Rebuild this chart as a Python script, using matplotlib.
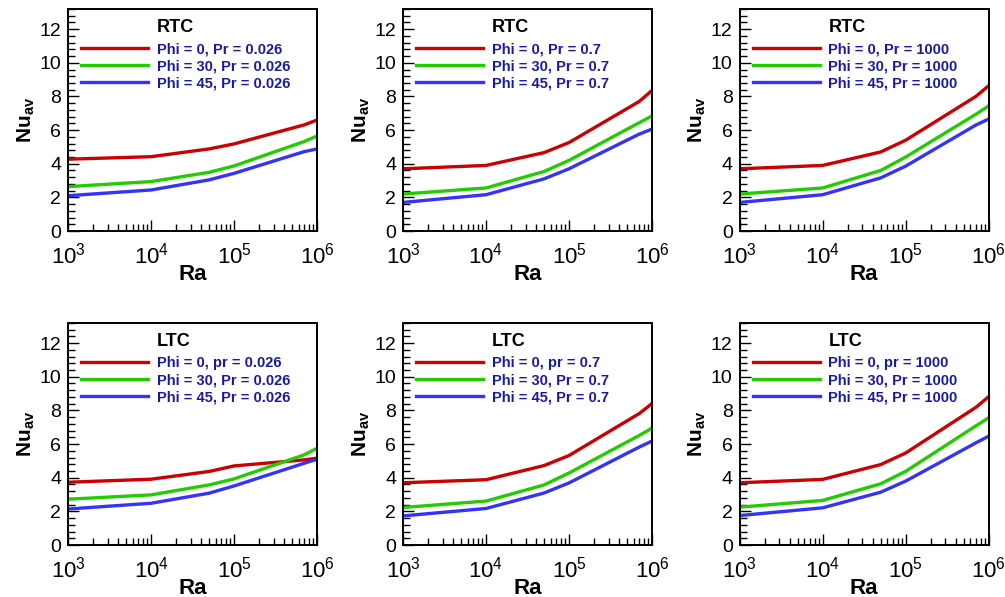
import matplotlib
matplotlib.use('Agg')
import matplotlib.pyplot as plt
import numpy as np
from matplotlib.ticker import LogLocator, MultipleLocator, NullFormatter


plt.rcParams['font.family'] = ['Liberation Sans', 'DejaVu Sans']
plt.rcParams['mathtext.fontset'] = 'custom'
plt.rcParams['mathtext.rm'] = 'Liberation Sans'
plt.rcParams['mathtext.it'] = 'Liberation Sans'
plt.rcParams['mathtext.bf'] = 'Liberation Sans:bold'

ra = [1e3, 1e4, 5e4, 1e5, 7e5, 1e6]

# RTC, top row
rtc_0026 = {
    0: [4.27, 4.42, 4.88, 5.18, 6.31, 6.60],
    30: [2.64, 2.94, 3.49, 3.87, 5.32, 5.65],
    45: [2.10, 2.44, 3.04, 3.43, 4.72, 4.88],
}
rtc_07 = {
    0: [3.70, 3.90, 4.66, 5.26, 7.70, 8.36],
    30: [2.20, 2.56, 3.54, 4.20, 6.44, 6.84],
    45: [1.70, 2.16, 3.10, 3.70, 5.76, 6.06],
}
rtc_1000 = {
    0: [3.70, 3.90, 4.70, 5.40, 8.00, 8.64],
    30: [2.20, 2.56, 3.60, 4.40, 6.94, 7.44],
    45: [1.70, 2.16, 3.16, 3.86, 6.30, 6.66],
}
# LTC, bottom row
ltc_0026 = {
    0: [3.73, 3.91, 4.37, 4.70, 5.06, 5.16],
    30: [2.72, 2.98, 3.57, 3.93, 5.36, 5.75],
    45: [2.14, 2.48, 3.08, 3.51, 4.86, 5.10],
}
ltc_07 = {
    0: [3.70, 3.88, 4.72, 5.32, 7.81, 8.41],
    30: [2.23, 2.61, 3.57, 4.28, 6.51, 6.95],
    45: [1.73, 2.17, 3.09, 3.69, 5.82, 6.18],
}
ltc_1000 = {
    0: [3.70, 3.90, 4.78, 5.47, 8.18, 8.82],
    30: [2.25, 2.65, 3.64, 4.38, 7.08, 7.56],
    45: [1.75, 2.21, 3.14, 3.80, 6.07, 6.47],
}

panels = [
    ('RTC', rtc_0026, ['Phi = 0, Pr = 0.026', 'Phi = 30, Pr = 0.026', 'Phi = 45, Pr = 0.026']),
    ('RTC', rtc_07, ['Phi = 0, Pr = 0.7', 'Phi = 30, Pr = 0.7', 'Phi = 45, Pr = 0.7']),
    ('RTC', rtc_1000, ['Phi = 0, Pr = 1000', 'Phi = 30, Pr = 1000', 'Phi = 45, Pr = 1000']),
    ('LTC', ltc_0026, ['Phi = 0, pr = 0.026', 'Phi = 30, Pr = 0.026', 'Phi = 45, Pr = 0.026']),
    ('LTC', ltc_07, ['Phi = 0, pr = 0.7', 'Phi = 30, Pr = 0.7', 'Phi = 45, Pr = 0.7']),
    ('LTC', ltc_1000, ['Phi = 0, pr = 1000', 'Phi = 30, Pr = 1000', 'Phi = 45, Pr = 1000']),
]

colors = {0: '#cc0000', 30: '#22cc00', 45: '#3333ff'}

fig = plt.figure(figsize=(10.05, 5.97), dpi=100)
lefts = [0.0677, 0.401, 0.736]
bottoms = [0.613, 0.0871]
w, h = 0.2478, 0.372

for i, (title, data, labels) in enumerate(panels):
    ax = fig.add_axes([lefts[i % 3], bottoms[i // 3], w, h])
    for phi, lab in zip([0, 30, 45], labels):
        ax.plot(ra, data[phi], color=colors[phi], lw=2.4, label=lab)
    ax.set_xscale('log')
    ax.set_xlim(1e3, 1e6)
    ax.set_ylim(0, 13.2)
    ax.yaxis.set_major_locator(MultipleLocator(2))
    ax.yaxis.set_minor_locator(MultipleLocator(0.4))
    ax.xaxis.set_major_locator(LogLocator(base=10, numticks=10))
    ax.xaxis.set_minor_locator(LogLocator(base=10, subs=np.arange(2, 10), numticks=10))
    ax.xaxis.set_minor_formatter(NullFormatter())
    ax.tick_params(which='both', direction='in', top=False, right=False)
    ax.tick_params(which='major', length=8, width=1.0)
    ax.tick_params(which='minor', length=5, width=1.0)
    ax.tick_params(axis='y', labelsize=14, pad=5)
    ax.tick_params(axis='x', labelsize=16, pad=8)
    for s in ax.spines.values():
        s.set_linewidth(1.4)
    ax.set_xlabel('Ra', fontsize=16, fontweight='bold', labelpad=-3)
    ax.set_ylabel(r'Nu$_{\mathbf{av}}$', fontsize=15, fontweight='bold', labelpad=2)
    ax.legend(loc='upper left', bbox_to_anchor=(0.052, 0.85), frameon=False,
              handlelength=4.6, handletextpad=0.6, labelspacing=0.2,
              borderaxespad=0, borderpad=0,
              prop={'size': 10.5, 'weight': 'bold'}, labelcolor='#1a1aa0')
    ax.text(0.357, 0.915, title, transform=ax.transAxes, fontsize=13,
            fontweight='bold', ha='left', va='center')

fig.savefig('out.png', dpi=100)
